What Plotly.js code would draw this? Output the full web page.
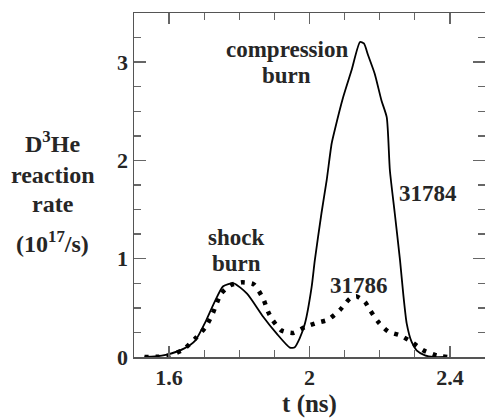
<!DOCTYPE html>
<html>
<head>
<meta charset="utf-8">
<script src="https://cdn.plot.ly/plotly-3.0.1.min.js"></script>
<style>html,body{margin:0;padding:0;background:#fff;}#chart{width:485px;height:418px;}</style>
</head>
<body>
<div id="chart"></div>
<script>
// Shot 31784 (solid line)
const t31784 = [1.53, 1.56, 1.594, 1.642, 1.675, 1.704, 1.727, 1.754, 1.784, 1.822, 1.868, 1.906, 1.944, 1.958, 1.972, 1.987, 2.006, 2.015, 2.034, 2.049, 2.063, 2.072, 2.096, 2.120, 2.144, 2.155, 2.167, 2.186, 2.205, 2.220, 2.229, 2.243, 2.258, 2.267, 2.277, 2.291, 2.305, 2.329, 2.353, 2.39];
const r31784 = [0, 0.005, 0.024, 0.085, 0.17, 0.36, 0.54, 0.72, 0.75, 0.645, 0.41, 0.24, 0.096, 0.10, 0.19, 0.34, 0.71, 0.98, 1.46, 1.80, 2.17, 2.31, 2.645, 2.92, 3.205, 3.19, 3.07, 2.88, 2.61, 2.44, 1.90, 1.46, 0.98, 0.645, 0.34, 0.153, 0.068, 0.017, 0, 0];
// Shot 31786 (dotted line)
const t31786 = [1.53, 1.57, 1.60, 1.64, 1.675, 1.704, 1.725, 1.748, 1.775, 1.808, 1.841, 1.868, 1.882, 1.896, 1.920, 1.953, 1.987, 2.020, 2.053, 2.087, 2.115, 2.134, 2.158, 2.172, 2.196, 2.224, 2.258, 2.291, 2.324, 2.362, 2.395];
const r31786 = [0, 0.003, 0.015, 0.075, 0.19, 0.305, 0.45, 0.645, 0.73, 0.76, 0.74, 0.594, 0.46, 0.37, 0.27, 0.245, 0.305, 0.346, 0.38, 0.48, 0.594, 0.617, 0.56, 0.48, 0.356, 0.26, 0.22, 0.153, 0.068, 0.017, 0];

const xTickVals = [1.6, 2, 2.4];
const xTickText = ['1.6', '2', '2.4'];
const yTickVals = [0, 1, 2, 3];
const yTickText = ['0', '1', '2', '3'];

const FONT = '"Liberation Serif", "Times New Roman", serif';
const TXT = '#262626';

const traces = [
  {x: t31784, y: r31784, mode: 'lines', line: {color: '#000', width: 1.8, shape: 'spline', smoothing: 0.6}, hoverinfo: 'skip'},
  {x: t31786, y: r31786, mode: 'lines', line: {color: '#000', width: 4.5, dash: '4px,7px', shape: 'spline', smoothing: 0.6}, hoverinfo: 'skip'}
];

function ann(text, x, y, xref, yref, size) {
  return {text: text, x: x, y: y, xref: xref, yref: yref, showarrow: false,
          xanchor: 'center', yanchor: 'middle',
          font: {family: FONT, size: size, color: TXT, weight: 700}};
}

const layout = {
  width: 485, height: 418,
  margin: {l: 134, r: 0, t: 13, b: 61},
  paper_bgcolor: '#fff', plot_bgcolor: '#fff',
  showlegend: false,
  font: {family: FONT, color: TXT, weight: 700},
  xaxis: {
    range: [1.5, 2.5], tickvals: xTickVals, ticktext: xTickText,
    ticks: 'inside', ticklen: 11, tickwidth: 1.3, tickcolor: '#666',
    minor: {ticks: 'inside', dtick: 0.1, tick0: 1.5, ticklen: 7, tickwidth: 1.3, tickcolor: '#666'},
    showline: true, linecolor: '#555', linewidth: 1.5, mirror: 'allticks',
    showgrid: false, zeroline: false,
    tickfont: {family: FONT, size: 22, color: TXT, weight: 700},
    title: {text: 't (ns)', font: {family: FONT, size: 25, color: TXT, weight: 700}, standoff: 6}
  },
  yaxis: {
    range: [0, 3.5], tickvals: yTickVals, ticktext: yTickText,
    ticks: 'inside', ticklen: 12, tickwidth: 1.3, tickcolor: '#666',
    minor: {ticks: 'inside', dtick: 0.25, tick0: 0, ticklen: 7, tickwidth: 1.3, tickcolor: '#666'},
    showline: true, linecolor: '#555', linewidth: 1.5, mirror: 'allticks',
    showgrid: false, zeroline: false,
    tickfont: {family: FONT, size: 22, color: TXT, weight: 700}
  },
  annotations: [
    ann('compression', 1.935, 3.13, 'x', 'y', 23),
    ann('burn', 1.935, 2.865, 'x', 'y', 23),
    ann('31784', 2.338, 1.66, 'x', 'y', 23),
    ann('shock', 1.792, 1.22, 'x', 'y', 23),
    ann('burn', 1.792, 0.95, 'x', 'y', 23),
    ann('31786', 2.141, 0.73, 'x', 'y', 23),
    ann('D<sup>3</sup>He', -0.231, 0.626, 'paper', 'paper', 24),
    ann('reaction', -0.231, 0.530, 'paper', 'paper', 24),
    ann('rate', -0.231, 0.444, 'paper', 'paper', 24),
    ann('(10<sup>17</sup>/s)', -0.231, 0.333, 'paper', 'paper', 24)
  ]
};

Plotly.newPlot('chart', traces, layout, {staticPlot: true, displayModeBar: false});
</script>
</body>
</html>
